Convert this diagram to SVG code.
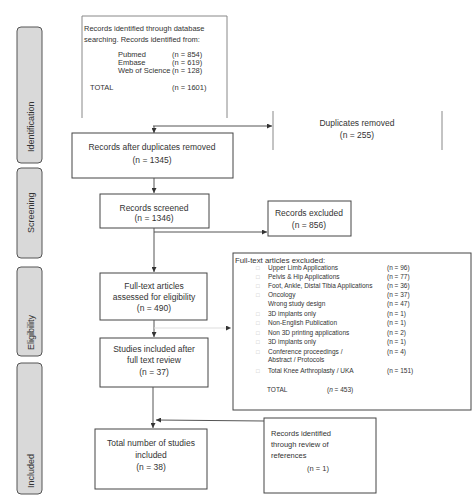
<svg xmlns="http://www.w3.org/2000/svg" width="475" height="503" viewBox="0 0 475 503">
<style>
text{font-family:"Liberation Sans",Arial,sans-serif;fill:#333}
.box{fill:#fff;stroke:#444;stroke-width:1}
.faint{fill:none;stroke:#888;stroke-width:1}
.m{font-size:8.5px;text-anchor:middle}
.s{font-size:7.5px}
.h{font-size:7.8px}
.l{font-size:6.5px}
.b{font-size:6px;fill:#bbb}
.side{fill:#d9d9d9;stroke:#555;stroke-width:1}
.st{font-size:9px;fill:#333;text-anchor:start}
.c{fill:none;stroke:#555;stroke-width:1}
</style>
<defs>
<marker id="ah" markerUnits="userSpaceOnUse" markerWidth="5" markerHeight="5" refX="5" refY="2.5" orient="auto">
<path d="M0,0 L5,2.5 L0,5 z" fill="#333"/>
</marker>
</defs>
<g id="phase-identification"><rect class="side" x="17" y="27" width="25" height="136" rx="4"/><text class="st" transform="translate(34,152) rotate(-90)">Identification</text></g>
<g id="phase-screening"><rect class="side" x="17" y="168" width="25" height="90" rx="4"/><text class="st" transform="translate(34,233) rotate(-90)">Screening</text></g>
<g id="phase-eligibility"><rect class="side" x="17" y="267" width="25" height="89" rx="4"/><text class="st" transform="translate(34,350) rotate(-90)">Eligibility</text></g>
<g id="phase-included"><rect class="side" x="17" y="363" width="25" height="131" rx="4"/><text class="st" transform="translate(34,488) rotate(-90)">Included</text></g>

<g id="records-identified">
<path class="faint" d="M82,118 V16 H227 V118"/>
<text class="s" x="84" y="31">Records identified through database</text>
<text class="s" x="84" y="42">searching. Records identified from:</text>
<text class="s" x="118" y="57">Pubmed</text><text class="s" x="172" y="57">(n = 854)</text>
<text class="s" x="118" y="65">Embase</text><text class="s" x="172" y="65">(n = 619)</text>
<text class="s" x="118" y="73">Web of Science</text><text class="s" x="172" y="73">(n = 128)</text>
<text class="s" x="90" y="90">TOTAL</text><text class="s" x="172" y="90">(n = 1601)</text>
</g>
<g id="duplicates-removed">
<path class="faint" d="M273,111 V150 M442,111 V150"/>
<text class="m" x="357" y="126">Duplicates removed</text>
<text class="m" x="357" y="138">(n = 255)</text>
</g>
<g id="after-duplicates">
<rect class="box" x="72" y="133" width="161" height="45"/>
<text class="m" x="152" y="150">Records after duplicates removed</text>
<text class="m" x="152" y="163">(n = 1345)</text>
</g>
<g id="records-screened">
<rect class="box" x="100" y="194" width="109" height="34"/>
<text class="m" x="154" y="211">Records screened</text>
<text class="m" x="154" y="221">(n = 1346)</text>
</g>
<g id="records-excluded">
<rect class="box" x="268" y="201" width="83" height="35"/>
<text class="m" x="309" y="216">Records excluded</text>
<text class="m" x="309" y="228">(n = 856)</text>
</g>
<g id="fulltext-assessed">
<rect class="box" x="100" y="273" width="107" height="47"/>
<text class="m" x="154" y="289">Full-text articles</text>
<text class="m" x="154" y="300">assessed for eligibility</text>
<text class="m" x="154" y="311">(n = 490)</text>
</g>
<g id="fulltext-excluded">
<rect class="box" x="233" y="253" width="238" height="157"/>
<text class="h" x="235" y="263">Full-text articles excluded:</text>
<text class="b" x="256" y="270">□</text><text class="l" x="268" y="270">Upper Limb Applications</text><text class="l" x="387" y="270">(n = 96)</text>
<text class="b" x="256" y="279">□</text><text class="l" x="268" y="279">Pelvis &amp; Hip Applications</text><text class="l" x="387" y="279">(n = 77)</text>
<text class="b" x="256" y="288">□</text><text class="l" x="268" y="288">Foot, Ankle, Distal Tibia Applications</text><text class="l" x="387" y="288">(n = 36)</text>
<text class="b" x="256" y="297">□</text><text class="l" x="268" y="297">Oncology</text><text class="l" x="387" y="297">(n = 37)</text>
<text class="l" x="268" y="306">Wrong study design</text><text class="l" x="387" y="306">(n = 47)</text>
<text class="b" x="256" y="316">□</text><text class="l" x="268" y="316">3D implants only</text><text class="l" x="387" y="316">(n = 1)</text>
<text class="b" x="256" y="325">□</text><text class="l" x="268" y="325">Non-English Publication</text><text class="l" x="387" y="325">(n = 1)</text>
<text class="b" x="256" y="335">□</text><text class="l" x="268" y="335">Non 3D printing applications</text><text class="l" x="387" y="335">(n = 2)</text>
<text class="b" x="256" y="344">□</text><text class="l" x="268" y="344">3D implants only</text><text class="l" x="387" y="344">(n = 1)</text>
<text class="b" x="256" y="354">□</text><text class="l" x="268" y="354">Conference proceedings /</text><text class="l" x="387" y="354">(n = 4)</text>
<text class="l" x="268" y="362">Abstract / Protocols</text>
<text class="b" x="256" y="373">□</text><text class="l" x="268" y="373">Total Knee Arthroplasty / UKA</text><text class="l" x="387" y="373">(n = 151)</text>
<text class="l" x="267" y="392">TOTAL</text><text class="l" x="327" y="392">(<tspan font-style="italic">n</tspan> = 453)</text>
</g>
<g id="studies-included">
<rect class="box" x="100" y="338" width="108" height="49"/>
<text class="m" x="154" y="352">Studies included after</text>
<text class="m" x="154" y="363">full text review</text>
<text class="m" x="154" y="375">(n = 37)</text>
</g>
<g id="total-included">
<rect class="box" x="95" y="429" width="112" height="60"/>
<text class="m" x="151" y="446">Total number of studies</text>
<text class="m" x="151" y="458">included</text>
<text class="m" x="151" y="470">(n = 38)</text>
</g>
<g id="review-references">
<rect class="box" x="264" y="418" width="112" height="75"/>
<text class="s" x="271" y="436">Records identified</text>
<text class="s" x="271" y="447">through review of</text>
<text class="s" x="271" y="458">references</text>
<text class="s" x="318" y="471" text-anchor="middle">(n = 1)</text>
</g>

<g id="connectors">
<path class="c" d="M154,126 V133" marker-end="url(#ah)"/>
<path class="c" d="M153,126 H272" marker-end="url(#ah)"/>
<path class="c" d="M154,178 V193" marker-end="url(#ah)"/>
<path class="c" d="M154,228 V272" marker-end="url(#ah)"/>
<path class="c" d="M154,232 H267" marker-end="url(#ah)"/>
<path class="c" d="M154,320 V337" marker-end="url(#ah)"/>
<path d="M154,328 H231" fill="none" stroke="#ddd" stroke-width="1" marker-end="url(#ah)"/>
<path class="c" d="M153,387 V428" marker-end="url(#ah)"/>
<path class="c" d="M264,421 L156,420" marker-end="url(#ah)"/>
</g>
</svg>
